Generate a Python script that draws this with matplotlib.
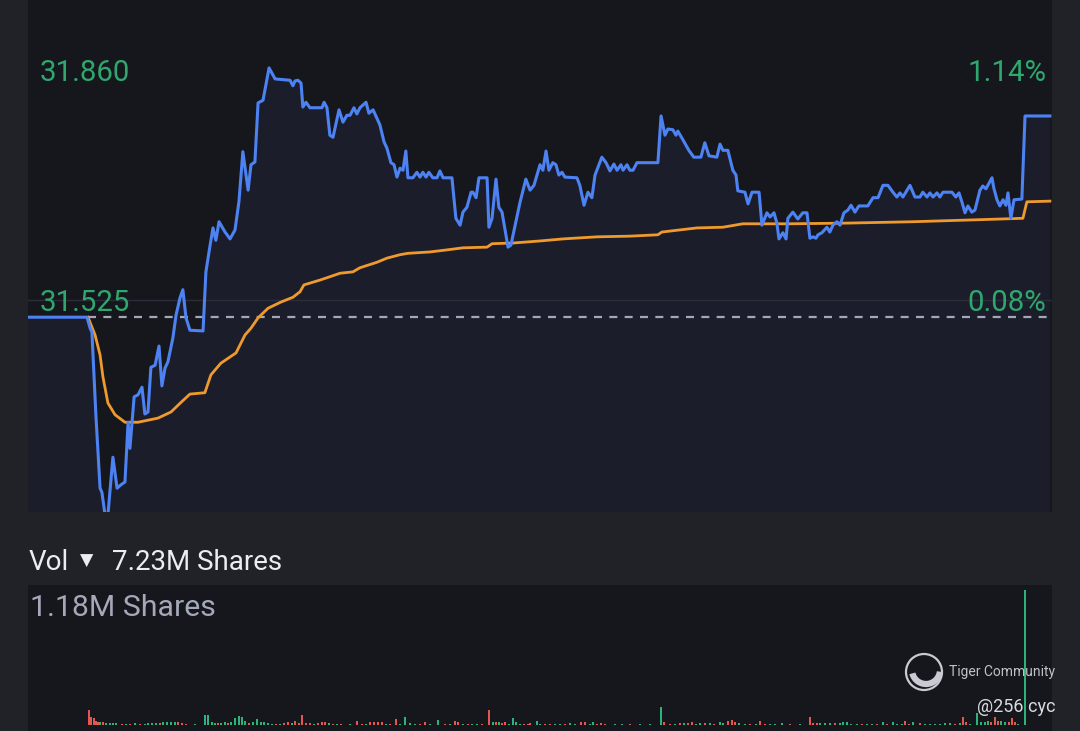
import matplotlib
matplotlib.use("Agg")
import matplotlib.pyplot as plt
from matplotlib.patches import Ellipse, Arc

# ---------------- data ----------------
minutes = [0, 22.5, 23.7, 24.4, 25.9, 27.5, 28.2, 29.4, 30.5, 32.4, 34.0, 35.5, 37.0, 38.2, 38.9,
           40.5, 42.0, 43.5, 44.6, 45.8, 46.9, 48.5, 50.0, 51.1, 52.3, 53.4, 55.3, 56.5, 58.0, 59.1,
           60.3, 61.8, 66.8, 67.9, 69.5, 70.6, 71.7, 72.9, 75.2, 77.1, 79.0, 80.5, 82.0, 84.0, 85.1,
           86.6, 87.8, 89.7, 92.0, 94.3, 100.0, 101.1, 101.9, 103.0, 104.2, 104.9, 106.1, 107.6,
           112.2, 113.0, 114.1, 115.2, 116.4, 118.7, 120.2, 121.7, 122.9, 124.4, 125.5, 126.7,
           129.0, 130.1, 131.7, 134.3, 135.9, 137.0, 138.5, 139.7, 140.8, 142.0, 143.1, 144.2,
           145.0, 146.9, 148.4, 149.6, 150.7, 151.9, 153.0, 154.5, 156.1, 157.2, 158.4, 161.8,
           163.3, 164.9, 166.0, 167.5, 169.1, 169.8, 171.0, 172.1, 175.2, 175.9, 177.1, 178.6,
           179.7, 180.9, 183.2, 184.3, 187.7, 190.0, 191.6, 193.1, 195.4, 196.5, 197.7, 198.8,
           200.3, 201.5, 202.6, 203.8, 204.9, 209.5, 210.6, 212.2, 213.7, 215.2, 216.4, 219.0,
           220.6, 222.1, 223.6, 224.8, 226.3, 227.1, 228.6, 229.7, 230.9, 232.4, 240.4, 241.6,
           243.1, 244.2, 246.1, 247.3, 248.0, 250.0, 252.2, 254.1, 256.8, 258.3, 259.9, 262.9,
           264.1, 265.2, 267.1, 269.0, 270.2, 270.9, 273.6, 274.8, 276.3, 279.0, 280.1, 282.0,
           283.2, 284.7, 285.8, 286.6, 288.1, 289.3, 290.0, 291.9, 293.8, 295.7, 297.3, 298.4,
           299.6, 300.7, 301.5, 303.0, 304.9, 306.0, 307.2, 308.7, 309.9, 311.4, 312.9, 314.1,
           315.6, 317.1, 320.5, 322.5, 324.4, 326.3, 328.2, 330.1, 331.6, 332.8, 333.9, 336.6,
           338.5, 340.4, 341.5, 343.1, 344.2, 345.4, 346.9, 348.0, 349.2, 352.6, 354.1, 355.3,
           356.4, 357.6, 358.7, 360.2, 361.4, 363.3, 364.4, 365.6, 366.3, 367.9, 368.6, 369.8,
           370.9, 372.1, 373.2, 374.0, 375.1, 376.3, 379.3, 380.5, 390.0]
prices = [31.500, 31.500, 31.484, 31.478, 31.358, 31.251, 31.245, 31.212, 31.212, 31.296, 31.251,
          31.256, 31.260, 31.347, 31.309, 31.384, 31.387, 31.398, 31.359, 31.362, 31.427, 31.430,
          31.458, 31.400, 31.426, 31.435, 31.470, 31.503, 31.528, 31.540, 31.499, 31.481, 31.480,
          31.566, 31.605, 31.630, 31.612, 31.639, 31.624, 31.614, 31.627, 31.668, 31.741, 31.685,
          31.722, 31.726, 31.812, 31.816, 31.863, 31.847, 31.845, 31.837, 31.844, 31.845, 31.841,
          31.806, 31.813, 31.805, 31.805, 31.813, 31.805, 31.765, 31.762, 31.802, 31.784, 31.794,
          31.794, 31.805, 31.796, 31.805, 31.813, 31.797, 31.802, 31.780, 31.755, 31.746, 31.725,
          31.722, 31.704, 31.717, 31.714, 31.742, 31.703, 31.703, 31.711, 31.704, 31.711, 31.704,
          31.711, 31.703, 31.703, 31.713, 31.703, 31.703, 31.644, 31.634, 31.653, 31.660, 31.682,
          31.682, 31.674, 31.703, 31.703, 31.631, 31.644, 31.701, 31.660, 31.653, 31.602, 31.605,
          31.666, 31.701, 31.685, 31.692, 31.722, 31.714, 31.742, 31.714, 31.725, 31.722, 31.707,
          31.711, 31.704, 31.703, 31.692, 31.663, 31.682, 31.674, 31.707, 31.733, 31.725, 31.713,
          31.723, 31.714, 31.722, 31.714, 31.722, 31.714, 31.714, 31.725, 31.725, 31.793, 31.765,
          31.774, 31.773, 31.765, 31.771, 31.758, 31.743, 31.733, 31.733, 31.754, 31.735, 31.733,
          31.752, 31.743, 31.743, 31.714, 31.707, 31.684, 31.682, 31.665, 31.682, 31.682, 31.634,
          31.652, 31.646, 31.652, 31.637, 31.614, 31.623, 31.614, 31.644, 31.653, 31.643, 31.652,
          31.652, 31.615, 31.617, 31.615, 31.620, 31.623, 31.631, 31.624, 31.634, 31.639, 31.634,
          31.652, 31.656, 31.663, 31.653, 31.662, 31.662, 31.674, 31.674, 31.692, 31.692, 31.682,
          31.675, 31.681, 31.675, 31.692, 31.675, 31.675, 31.682, 31.675, 31.681, 31.675, 31.681,
          31.675, 31.682, 31.682, 31.675, 31.681, 31.668, 31.652, 31.662, 31.653, 31.656, 31.685,
          31.691, 31.687, 31.692, 31.703, 31.688, 31.671, 31.662, 31.671, 31.663, 31.681, 31.644,
          31.671, 31.672, 31.793, 31.793]

vwap_minutes = [22.9, 25.6, 27.5, 28.6, 30.5, 33.2, 37.0, 42.0, 49.6, 54.6, 58.4, 61.8, 67.5, 69.8,
                73.6, 79.4, 82.8, 85.1, 87.8, 91.6, 96.5, 101.1, 103.8, 105.3, 111.4, 114.5, 119.1,
                124.0, 126.7, 133.2, 137.0, 142.0, 145.0, 153.4, 159.9, 166.0, 175.2, 177.1, 185.1,
                195.4, 204.2, 217.1, 229.7, 240.4, 241.9, 255.3, 265.2, 272.8, 290.8, 312.5, 337.7,
                363.3, 379.7, 381.2, 390.0]
vwap = [31.500, 31.474, 31.445, 31.413, 31.375, 31.358, 31.347, 31.347, 31.353, 31.362, 31.376,
        31.388, 31.390, 31.416, 31.433, 31.448, 31.474, 31.484, 31.499, 31.513, 31.522, 31.529,
        31.537, 31.547, 31.554, 31.558, 31.564, 31.566, 31.572, 31.580, 31.586, 31.591, 31.593,
        31.595, 31.598, 31.601, 31.602, 31.607, 31.608, 31.611, 31.614, 31.617, 31.618, 31.620,
        31.624, 31.630, 31.631, 31.636, 31.636, 31.637, 31.639, 31.642, 31.644, 31.668, 31.669]

vol_minutes = [23.3, 24.0, 25.2, 25.9, 26.7, 27.5, 28.6, 29.8, 31.3, 32.4, 33.6, 35.9, 37.4, 38.9,
               40.8, 42.7, 44.6, 45.8, 47.3, 48.8, 50.4, 51.5, 53.0, 54.6, 56.1, 57.2, 58.8, 60.3,
               63.7, 67.5, 68.7, 70.2, 71.4, 72.5, 73.6, 75.2, 76.3, 77.5, 79.0, 80.5, 81.7, 82.8,
               84.3, 85.9, 87.4, 88.9, 90.1, 91.6, 93.1, 94.6, 96.2, 97.7, 99.2, 100.7, 101.9, 103.4,
               104.6, 106.1, 107.6, 109.1, 110.7, 112.2, 113.3, 114.9, 116.4, 117.9, 119.4, 122.9,
               125.5, 127.5, 129.0, 130.5, 132.0, 133.6, 135.1, 136.6, 138.1, 140.4, 142.0, 143.9,
               145.8, 147.7, 149.6, 151.5, 153.4, 156.5, 159.1, 161.0, 162.9, 164.1, 166.0, 167.9,
               169.4, 171.3, 173.2, 175.9, 177.4, 178.6, 179.7, 180.9, 182.0, 183.6, 185.1, 186.2,
               187.7, 189.3, 190.8, 191.6, 194.2, 195.4, 197.3, 199.2, 201.1, 203.0, 204.9, 206.8,
               208.7, 211.0, 212.6, 214.5, 215.6, 217.1, 218.7, 220.2, 224.0, 226.7, 229.7, 233.5,
               237.4, 241.6, 242.7, 245.0, 246.9, 248.8, 250.3, 251.9, 253.4, 254.9, 256.4, 258.3,
               260.2, 261.8, 264.1, 265.2, 267.1, 268.7, 269.8, 271.3, 273.6, 275.5, 277.8, 279.3,
               281.2, 283.2, 285.1, 287.7, 290.8, 294.6, 298.4, 299.6, 301.1, 302.2, 304.1, 306.0,
               308.0, 309.9, 311.0, 312.5, 314.1, 316.4, 318.3, 320.2, 322.1, 324.0, 326.3, 327.8,
               330.1, 331.6, 333.5, 334.7, 336.2, 337.7, 340.4, 342.3, 344.2, 346.1, 348.0, 349.9,
               351.8, 353.7, 355.7, 356.8, 358.0, 359.5, 362.2, 363.7, 365.2, 366.3, 367.5, 369.0,
               370.2, 371.3, 372.8, 374.4, 375.5, 376.6, 377.8, 380.5]
vol_k = [131, 70, 61, 35, 26, 26, 26, 17, 17, 17, 17, 9, 9, 9,
         17, 9, 9, 17, 17, 17, 17, 26, 26, 26, 26, 26, 17, 9,
         9, 87, 87, 26, 17, 17, 17, 26, 17, 26, 61, 79, 70, 35,
         17, 26, 52, 26, 26, 17, 9, 9, 9, 17, 26, 17, 35, 17,
         87, 17, 17, 9, 17, 26, 26, 17, 9, 9, 9, 9,
         35, 9, 9, 26, 26, 26, 26, 9, 9, 52, 9, 70,
         17, 9, 9, 26, 9, 44, 9, 9, 35, 26, 9, 9,
         9, 9, 9, 131, 26, 26, 26, 17, 26, 9, 61, 26,
         9, 9, 9, 17, 35, 9, 9, 9, 9, 9, 9, 17,
         9, 26, 26, 9, 26, 9, 17, 9, 9, 9, 9, 9,
         9, 157, 26, 9, 9, 17, 17, 17, 26, 9, 17, 17,
         17, 9, 26, 17, 35, 44, 26, 17, 9, 9, 9, 35,
         9, 9, 9, 17, 9, 9, 70, 17, 17, 17, 17, 17,
         17, 17, 26, 26, 9, 9, 9, 9, 9, 9, 26, 9,
         26, 9, 9, 35, 9, 26, 17, 9, 9, 9, 9, 17,
         17, 9, 17, 70, 26, 9, 105, 26, 26, 35, 26, 70,
         35, 35, 26, 26, 61, 26, 9, 1180]
vol_dir = ["r", "r", "r", "r", "r", "g", "r", "g", "g", "g", "g", "r", "g", "r",
           "g", "r", "g", "g", "g", "g", "r", "g", "g", "g", "g", "r", "r", "r",
           "g", "g", "g", "g", "g", "r", "g", "g", "r", "g", "g", "g", "g", "g",
           "r", "g", "g", "g", "g", "g", "g", "r", "g", "r", "r", "g", "r", "r",
           "r", "r", "r", "g", "r", "r", "r", "g", "r", "g", "r", "g",
           "r", "r", "g", "r", "r", "r", "r", "g", "r", "r", "g", "g",
           "g", "g", "r", "r", "g", "g", "r", "g", "r", "r", "g", "r",
           "g", "g", "r", "r", "g", "r", "g", "r", "r", "g", "g", "g",
           "g", "r", "r", "r", "g", "g", "r", "r", "g", "g", "r", "g",
           "g", "r", "r", "g", "g", "r", "r", "r", "g", "g", "r", "g",
           "g", "g", "r", "r", "g", "r", "g", "r", "r", "g", "g", "r",
           "g", "r", "g", "g", "r", "r", "r", "g", "g", "r", "g", "r",
           "r", "g", "g", "g", "r", "g", "r", "r", "r", "g", "g", "g",
           "r", "g", "g", "g", "g", "g", "r", "g", "g", "r", "g", "r",
           "g", "g", "g", "r", "r", "g", "r", "g", "g", "g", "g", "g",
           "g", "r", "g", "r", "r", "g", "g", "g", "g", "g", "r", "r",
           "r", "g", "g", "r", "r", "r", "g", "g"]

price_levels = [31.860, 31.525]
prev_close = 31.50
day_volume_label = "7.23M Shares"
vol_max_label = "1.18M Shares"
watermark = ["Tiger Community", "@256 cyc"]

# ---------------- style ----------------
OUTER = "#212228"
PANEL = "#16171d"
FILL = "#1b1e2a"
BLUE = "#4d82f3"
ORANGE = "#f09a2e"
GREEN_TXT = "#2fa86f"
UP = "#2db37a"
DOWN = "#e2574f"
FONT = ["Roboto", "DejaVu Sans"]

W, H = 1080, 731
fig = plt.figure(figsize=(W / 100, H / 100), dpi=100, facecolor=OUTER)

def fx(px):
    return px / W

def fy(py):
    return 1 - py / H

L, R = 28, 1052
ax = fig.add_axes([fx(L), fy(512), fx(R - L), fy(0) - fy(512)])
ax.set_facecolor(PANEL)
y_lo, y_hi = 31.2163, 31.9619
x_lo, x_hi = 0, 390.8
ax.set_xlim(x_lo, x_hi)
ax.set_ylim(y_lo, y_hi)
for s in ax.spines.values():
    s.set_visible(False)
ax.set_xticks([])
ax.set_yticks([])

ax.fill_between(minutes, prices, y_lo - 1, color=FILL, lw=0, zorder=1)
ax.axhline(price_levels[1], color="#2b2e39", lw=1.0, zorder=2)
ax.plot([vwap_minutes[0], x_hi], [prev_close, prev_close], color="#a3a7b9", lw=1.6,
        dashes=(3.6, 3.3), zorder=3)
ax.plot(vwap_minutes, vwap, color=ORANGE, lw=2.0, zorder=4, solid_joinstyle="round")
ax.plot(minutes, prices, color=BLUE, lw=2.2, zorder=5, solid_joinstyle="round")

px_per_price = 512 / (y_hi - y_lo)
label_shift = 3 / px_per_price  # text sits a few pixels below its level
for lv in price_levels:
    pct = (lv / prev_close - 1) * 100
    ax.text((40 - L) / (R - L), lv - label_shift, f"{lv:.3f}", transform=ax.get_yaxis_transform(),
            color=GREEN_TXT, fontsize=21.2, family=FONT, va="center", ha="left", zorder=6)
    ax.text((1046 - L) / (R - L), lv - label_shift, f"{pct:.2f}%", transform=ax.get_yaxis_transform(),
            color=GREEN_TXT, fontsize=21.2, family=FONT, va="center", ha="left" if False else "right",
            zorder=6)

# ---------------- volume ----------------
vax = fig.add_axes([fx(L), 0, fx(R - L), fy(585)])
vax.set_facecolor(PANEL)
vax.set_xlim(x_lo, x_hi)
vax.set_ylim(-52, 1224)
for s in vax.spines.values():
    s.set_visible(False)
vax.set_xticks([])
vax.set_yticks([])
bar_colors = [UP if d == "g" else DOWN for d in vol_dir]
vax.bar(vol_minutes, vol_k, width=0.8, color=bar_colors, lw=0, zorder=4)

vax.text(2 / (R - L), 1 - 23 / 146, vol_max_label, transform=vax.transAxes, color="#a4a8b8",
         fontsize=21.8, family=FONT, va="center", ha="left", zorder=5)

# watermark (below bars)
fig.text(fx(949), fy(672), watermark[0], color="#bfc1c9", fontsize=10, family=FONT,
         va="center", ha="left", zorder=1)
fig.text(fx(977), fy(707), watermark[1], color="#d9dae0", fontsize=13, family=FONT,
         va="center", ha="left", zorder=1)
cx, cy, r = 924, 672, 18
fig.add_artist(Ellipse((fx(cx), fy(cy)), 2 * r / W, 2 * r / H, fill=False, ec="#c9cad2",
                       lw=1.6, transform=fig.transFigure, zorder=1))
fig.add_artist(Arc((fx(cx + 2), fy(cy - 2)), 28 / W, 28 / H, theta1=200, theta2=350,
                   ec="#c9cad2", lw=4.5, transform=fig.transFigure, zorder=1))

# volume header
fig.text(fx(29), fy(563), "Vol", color="#ececf1", fontsize=20, family=FONT,
         va="center", ha="left")
fig.text(fx(80), fy(561), "\u25BC", color="#ececf1", fontsize=12.5, family=["DejaVu Sans"],
         va="center", ha="left")
fig.text(fx(112), fy(563), day_volume_label, color="#ececf1", fontsize=20, family=FONT,
         va="center", ha="left")

fig.savefig("out.png", dpi=100, facecolor=OUTER)
